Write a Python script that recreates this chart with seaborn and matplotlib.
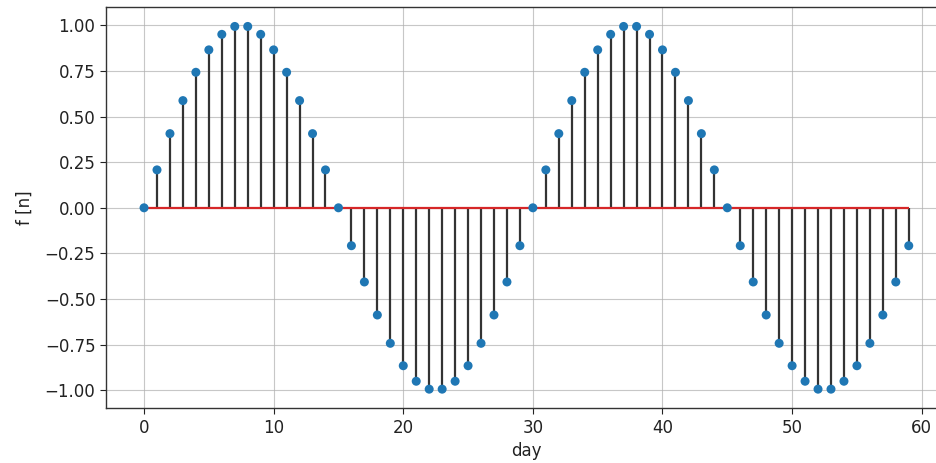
import matplotlib
matplotlib.use("Agg")
import matplotlib.pyplot as plt
import seaborn as sns
import pandas as pd

days = list(range(60))
values = [0.0, 0.2079, 0.4067, 0.5878, 0.7431, 0.8660, 0.9511, 0.9945,
          0.9945, 0.9511, 0.8660, 0.7431, 0.5878, 0.4067, 0.2079,
          0.0, -0.2079, -0.4067, -0.5878, -0.7431, -0.8660, -0.9511, -0.9945,
          -0.9945, -0.9511, -0.8660, -0.7431, -0.5878, -0.4067, -0.2079,
          0.0, 0.2079, 0.4067, 0.5878, 0.7431, 0.8660, 0.9511, 0.9945,
          0.9945, 0.9511, 0.8660, 0.7431, 0.5878, 0.4067, 0.2079,
          0.0, -0.2079, -0.4067, -0.5878, -0.7431, -0.8660, -0.9511, -0.9945,
          -0.9945, -0.9511, -0.8660, -0.7431, -0.5878, -0.4067, -0.2079]
x_ticks = [0, 10, 20, 30, 40, 50, 60]
y_ticks = [-1.0, -0.75, -0.5, -0.25, 0.0, 0.25, 0.5, 0.75, 1.0]
x_label = "day"
y_label = "f [n]"

df = pd.DataFrame({"day": days, "f": values})

sns.set_style("ticks")
plt.rcParams["font.family"] = ["DejaVu Sans"]

fig = plt.figure(figsize=(9.37, 4.63), dpi=100)
W, H = 937, 463
left, right, top, bottom = 105.8, 947.0, 7.2, 408.4
ax = fig.add_axes([left / W, 1 - bottom / H, (right - left) / W, (bottom - top) / H])

ax.vlines(df["day"], 0, df["f"], colors="#333333", linewidth=1.6, zorder=2)
ax.hlines(0, df["day"].min(), df["day"].max(), colors="#d62728", linewidth=1.6, zorder=3)
sns.scatterplot(data=df, x="day", y="f", ax=ax, color="#1f77b4", s=42,
                edgecolor="none", zorder=4, legend=False)

ax.set_xlim(-2.95, 61.95)
ax.set_ylim(-1.1, 1.1)
ax.set_xticks(x_ticks)
ax.set_yticks(y_ticks)
ax.set_yticklabels([f"{v:.2f}".replace("-", "\u2212") for v in y_ticks])
ax.grid(True, color="#b0b0b0", linewidth=0.8, alpha=0.7)
ax.set_axisbelow(True)
ax.set_xlabel(x_label, fontsize=12, color="#222222")
ax.set_ylabel(y_label, fontsize=12, color="#222222", labelpad=8)
ax.tick_params(labelsize=12, colors="#222222", length=4)
for s in ax.spines.values():
    s.set_color("#333333")
    s.set_linewidth(1.0)

fig.savefig("out.png", dpi=100)
